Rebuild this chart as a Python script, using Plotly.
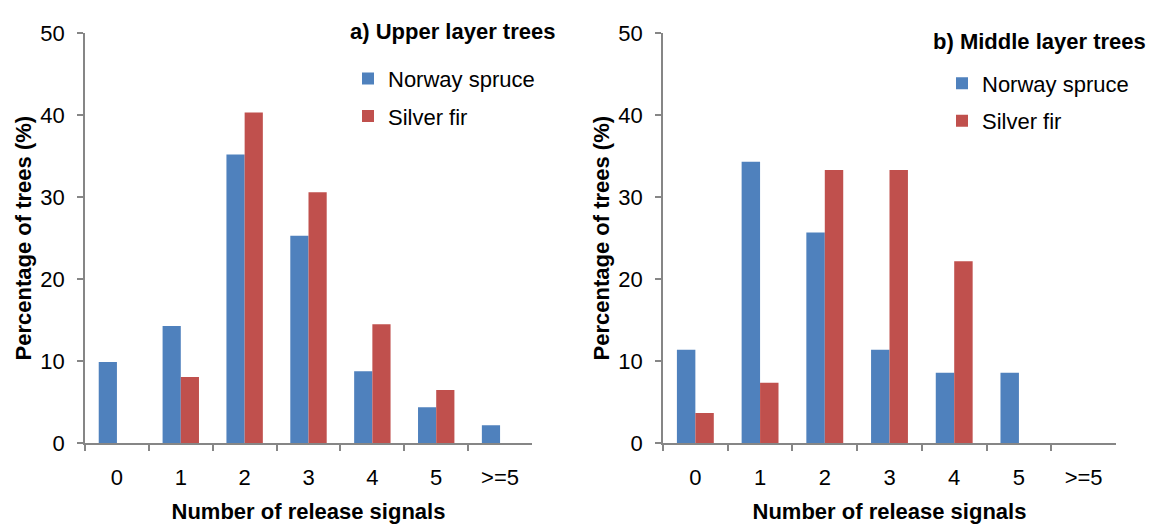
import plotly.graph_objects as go

# Release-signal frequency by canopy layer
categories = ["0", "1", "2", "3", "4", "5", ">=5"]

upper_spruce = [9.9, 14.3, 35.2, 25.3, 8.8, 4.4, 2.2]
upper_fir = [0, 8.1, 40.3, 30.6, 14.5, 6.5, 0]

middle_spruce = [11.4, 34.3, 25.7, 11.4, 8.6, 8.6, 0]
middle_fir = [3.7, 7.4, 33.3, 33.3, 22.2, 0, 0]

y_ticks = [0, 10, 20, 30, 40, 50]

SPRUCE = "#4F81BD"
FIR = "#C0504D"
AXIS = "#868686"
FONT = "Liberation Sans, Arial, sans-serif"

W, H = 1153, 524

fig = go.Figure()

panels = [
    ("x", "y", "legend", upper_spruce, upper_fir),
    ("x2", "y2", "legend2", middle_spruce, middle_fir),
]
for xa, ya, leg, spruce, fir in panels:
    fig.add_trace(go.Bar(x=categories, y=spruce, name="Norway spruce",
                         marker=dict(color=SPRUCE, line=dict(width=0)),
                         xaxis=xa, yaxis=ya, legend=leg, legendgroup="spruce" + xa))
    fig.add_trace(go.Bar(x=categories, y=fir, name="Silver fir",
                         marker=dict(color=FIR, line=dict(width=0)),
                         xaxis=xa, yaxis=ya, legend=leg, legendgroup="fir" + xa))


def px_x(p):
    return p / W


def px_y(p):
    return 1 - p / H


y_dom = [px_y(453), px_y(22)]

xcommon = dict(
    type="category", range=[-0.5, 6.5], tickson="boundaries",
    ticks="outside", ticklen=6, tickwidth=1.5, tickcolor=AXIS,
    showline=True, linecolor=AXIS, linewidth=1.5, showgrid=False,
    tickfont=dict(family=FONT, size=22, color="#000"),
    ticklabelstandoff=13,
    title=dict(text="<b>Number of release signals</b>",
               font=dict(family=FONT, size=22, color="#000"), standoff=16),
    zeroline=False,
)
ycommon = dict(
    range=[0, 50], tickvals=y_ticks, ticks="outside", ticklen=6,
    tickwidth=1.5, tickcolor=AXIS, showline=True, linecolor=AXIS,
    linewidth=1.5, showgrid=False, zeroline=False,
    tickfont=dict(family=FONT, size=22, color="#000"),
    ticklabelstandoff=8,
    title=dict(text="<b>Percentage of trees (%)</b>",
               font=dict(family=FONT, size=22, color="#000"), standoff=3),
)

legend_common = dict(
    font=dict(family=FONT, size=22, color="#000"),
    bgcolor="rgba(0,0,0,0)", borderwidth=0,
    xanchor="left", yanchor="top", tracegroupgap=6,
    itemclick=False, itemdoubleclick=False,
)

fig.update_layout(
    width=W, height=H,
    margin=dict(l=0, r=0, t=0, b=0),
    paper_bgcolor="white", plot_bgcolor="white",
    barmode="group", bargap=0.43, bargroupgap=0,
    showlegend=True,
    xaxis=dict(domain=[px_x(85), px_x(532)], anchor="y", **xcommon),
    yaxis=dict(domain=y_dom, anchor="x", **ycommon),
    xaxis2=dict(domain=[px_x(663), px_x(1116)], anchor="y2", **xcommon),
    yaxis2=dict(domain=y_dom, anchor="x2", **ycommon),
    legend=dict(x=px_x(348), y=px_y(48), **legend_common),
    legend2=dict(x=px_x(942), y=px_y(53), **legend_common),
    annotations=[
        dict(text="<b>a) Upper layer trees</b>", x=px_x(557), y=px_y(21),
             xref="paper", yref="paper", xanchor="right", yanchor="middle",
             showarrow=False, font=dict(family=FONT, size=22, color="#000")),
        dict(text="<b>b) Middle layer trees</b>", x=px_x(1148), y=px_y(31),
             xref="paper", yref="paper", xanchor="right", yanchor="middle",
             showarrow=False, font=dict(family=FONT, size=22, color="#000")),
    ],
)

fig.write_html("out.html")
